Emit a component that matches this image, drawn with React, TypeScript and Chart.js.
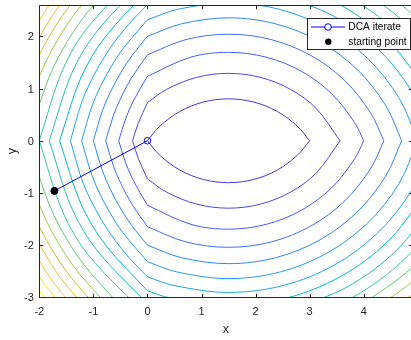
import React, { useEffect, useRef } from "react";
import { Chart, registerables } from "chart.js";

Chart.register(...registerables);

// ---- axes ----
const xLimits = [-2, 4.9];
const yLimits = [-3, 2.6];
const xTicks = [-2, -1, 0, 1, 2, 3, 4];
const yTicks = [-3, -2, -1, 0, 1, 2];

// ---- contour levels and colours (parula) ----
const levels = [0, 2, 4, 6, 8, 10, 12, 14, 16, 18, 20, 22, 24, 26, 28, 30, 32];
const levelColors = [
  "#4537D5", "#4747EB", "#465DFB", "#3E6FFF", "#2E87F7", "#259BE7",
  "#1CA9DF", "#01B8CA", "#24C1AE", "#37C897", "#64CD6F", "#9EC943",
  "#C5C22A", "#EFBA36", "#FEC338", "#F7DC2A", "#F7F51B",
];

// ---- contour lines: each level is a list of pieces of [x, y] ----
const c00 = [
  [[3, 0], [2.775, 0.275], [2.401, 0.561], [1.967, 0.741], [1.5, 0.803], [1.033, 0.741], [0.599, 0.561], [0.225, 0.275], [0, 0]],
  [[3, 0], [2.775, -0.275], [2.401, -0.561], [1.967, -0.741], [1.5, -0.803], [1.033, -0.741], [0.599, -0.561], [0.225, -0.275], [0, 0]],
];
const c02 = [
  [[3.562, 0], [3.12, 0.62], [2.646, 0.984], [2.093, 1.213], [1.5, 1.291], [0.907, 1.213], [0.354, 0.984], [0, 0.732]],
  [[3.562, 0], [3.12, -0.62], [2.646, -0.984], [2.093, -1.213], [1.5, -1.291], [0.907, -1.213], [0.354, -0.984], [0, -0.732]],
  [[0, 0.732], [-0.17, 0.336], [-0.275, 0]],
  [[0, -0.732], [-0.17, -0.336], [-0.275, 0]],
];
const c04 = [
  [[4, 0], [3.832, 0.346], [3.404, 0.904], [2.846, 1.332], [2.197, 1.601], [1.5, 1.693], [0.803, 1.601], [0, 1.236]],
  [[4, 0], [3.832, -0.346], [3.404, -0.904], [2.846, -1.332], [2.197, -1.601], [1.5, -1.693], [0.803, -1.601], [0, -1.236]],
  [[0, 1.236], [-0.264, 0.755], [-0.403, 0.421], [-0.531, 0]],
  [[0, -1.236], [-0.264, -0.755], [-0.403, -0.421], [-0.531, 0]],
];
const c06 = [
  [[4.372, 0], [4.134, 0.521], [3.651, 1.151], [3.021, 1.634], [2.287, 1.938], [1.5, 2.041], [0.713, 1.938], [0, 1.646]],
  [[4.372, 0], [4.134, -0.521], [3.651, -1.151], [3.021, -1.634], [2.287, -1.938], [1.5, -2.041], [0.713, -1.938], [0, -1.646]],
  [[0, 1.646], [-0.3, 1.194], [-0.476, 0.854], [-0.623, 0.501], [-0.772, 0]],
  [[0, -1.646], [-0.3, -1.194], [-0.476, -0.854], [-0.623, -0.501], [-0.772, 0]],
];
const c08 = [
  [[4.702, 0], [4.405, 0.677], [3.872, 1.372], [3.177, 1.905], [2.368, 2.24], [1.5, 2.354], [0.632, 2.24], [0, 2]],
  [[4.702, 0], [4.405, -0.677], [3.872, -1.372], [3.177, -1.905], [2.368, -2.24], [1.5, -2.354], [0.632, -2.24], [0, -2]],
  [[0, 2], [-0.276, 1.644], [-0.492, 1.305], [-0.678, 0.948], [-0.832, 0.577], [-1, 0]],
  [[0, -2], [-0.276, -1.644], [-0.492, -1.305], [-0.678, -0.948], [-0.832, -0.577], [-1, 0]],
];
const c10 = [
  [[5, 0], [4.652, 0.82], [4.074, 1.574], [3.32, 2.152], [2.442, 2.516], [1.5, 2.64], [0.558, 2.516], [0, 2.317]],
  [[5, 0], [4.652, -0.82], [4.074, -1.574], [3.32, -2.152], [2.442, -2.516], [1.5, -2.64], [0.558, -2.516], [0, -2.317]],
  [[0, 2.317], [-0.45, 1.766], [-0.676, 1.411], [-0.87, 1.038], [-1.031, 0.649], [-1.217, 0]],
  [[0, -2.317], [-0.45, -1.766], [-0.676, -1.411], [-0.87, -1.038], [-1.031, -0.649], [-1.217, 0]],
];
const c12 = [
  [[5.275, 0], [4.882, 0.953], [4.261, 1.761], [3.453, 2.382], [2.511, 2.772]],
  [[5.275, 0], [4.882, -0.953], [4.261, -1.761], [3.453, -2.382], [2.511, -2.772], [1.5, -2.905], [0.489, -2.772], [0, -2.606]],
  [[0, 2.606], [-0.349, 2.23], [-0.616, 1.882], [-0.852, 1.513], [-1.054, 1.124], [-1.222, 0.719], [-1.424, 0]],
  [[0, -2.606], [-0.349, -2.23], [-0.616, -1.882], [-0.852, -1.513], [-1.054, -1.124], [-1.222, -0.719], [-1.424, 0]],
];
const c14 = [
  [[5.097, 1.077], [4.437, 1.937], [3.577, 2.597], [2.575, 3.012]],
  [[5.097, -1.077], [4.437, -1.937], [3.577, -2.597], [2.575, -3.012], [1.5, -3.153], [0.425, -3.012], [0, -2.873]],
  [[0, 2.873], [-0.776, 1.994], [-1.231, 1.206], [-1.624, 0]],
  [[0, -2.873], [-0.776, -1.994], [-1.231, -1.206], [-1.624, 0]],
];
const c16 = [
  [[5.3, 1.194], [4.602, 2.102], [3.694, 2.8]],
  [[5.3, -1.194], [4.602, -2.102], [3.694, -2.8], [2.636, -3.238]],
  [[0, 3.123], [-0.93, 2.102], [-1.402, 1.286], [-1.815, 0]],
  [[0, -3.123], [-0.93, -2.102], [-1.402, -1.286], [-1.815, 0]],
];
const c18 = [
  [[5.492, 1.305], [4.76, 2.26], [3.805, 2.992]],
  [[5.492, -1.305], [4.76, -2.26], [3.805, -2.992], [2.693, -3.453]],
  [[0, 3.359], [-1.079, 2.206], [-1.566, 1.363], [-2, 0]],
  [[0, -3.359], [-1.079, -2.206], [-1.566, -1.363], [-2, 0]],
];
const c20 = [
  [[5.676, 1.411], [4.91, 2.41], [3.911, 3.176]],
  [[5.676, -1.411], [4.91, -2.41], [3.911, -3.176]],
  [[-0.577, 3.077], [-1.224, 2.307], [-1.726, 1.437], [-2.07, 0.492]],
  [[-0.577, -3.077], [-1.224, -2.307], [-1.726, -1.437], [-2.07, -0.492]],
];
const c22 = [
  [[5.852, -1.513], [5.053, -2.553], [4.013, -3.352]],
  [[-0.698, 3.198], [-1.364, 2.406], [-1.881, 1.509], [-2.235, 0.537]],
  [[-0.698, -3.198], [-1.364, -2.406], [-1.881, -1.509], [-2.235, -0.537]],
];
const c24 = [
  [[6.021, -1.61], [5.191, -2.691], [4.11, -3.521]],
  [[-0.816, 3.316], [-1.5, 2.501], [-2.031, 1.579], [-2.395, 0.58]],
  [[-0.816, -3.316], [-1.5, -2.501], [-2.031, -1.579], [-2.395, -0.58]],
];
const c26 = [
  [[-0.93, 3.43], [-1.632, 2.594], [-2.178, 1.648]],
  [[-0.93, -3.43], [-1.632, -2.594], [-2.178, -1.648]],
];
const c28 = [
  [[-1.042, 3.542], [-1.761, 2.684], [-2.321, 1.714]],
  [[-1.042, -3.542], [-1.761, -2.684], [-2.321, -1.714]],
];
const c30 = [
  [[-1.15, -3.65], [-1.887, -2.772], [-2.46, -1.779]],
];
const c32 = [
  [[-1.257, -3.757], [-2.01, -2.858], [-2.597, -1.843]],
];
const contourLines = [c00, c02, c04, c06, c08, c10, c12, c14, c16, c18, c20, c22, c24, c26, c28, c30, c32];

// ---- DCA iterates and starting point ----
const dcaX = [-1.72, 0];
const dcaY = [-0.96, 0];
const startX = [-1.72];
const startY = [-0.96];

const legendLabels = ["DCA iterate", "starting point"];
const axisTitles = { x: "x", y: "y" };

const AXIS_COLOR = "#262626";
const FONT = '"Liberation Sans", Arial, Helvetica, sans-serif';

const matlabAxes = {
  id: "matlabAxes",
  afterDatasetsDraw(chart: any) {
    const { ctx, chartArea: a, scales } = chart;
    const xs = scales.x;
    const ys = scales.y;
    const snap = (v: number) => Math.round(v) + 0.5;
    ctx.save();
    // box
    ctx.strokeStyle = AXIS_COLOR;
    ctx.lineWidth = 1;
    const L = snap(a.left), R = snap(a.right), T = snap(a.top), B = snap(a.bottom);
    ctx.beginPath();
    ctx.moveTo(L, T); ctx.lineTo(R, T); ctx.lineTo(R, B); ctx.lineTo(L, B); ctx.closePath();
    ctx.stroke();
    // ticks (inward)
    const tl = 3.7;
    ctx.beginPath();
    xTicks.forEach((v) => {
      const p = snap(xs.getPixelForValue(v));
      ctx.moveTo(p, B); ctx.lineTo(p, B - tl);
      ctx.moveTo(p, T); ctx.lineTo(p, T + tl);
    });
    yTicks.forEach((v) => {
      const p = snap(ys.getPixelForValue(v));
      ctx.moveTo(L, p); ctx.lineTo(L + tl, p);
      ctx.moveTo(R, p); ctx.lineTo(R - tl, p);
    });
    ctx.stroke();
    // tick labels
    ctx.fillStyle = AXIS_COLOR;
    ctx.font = `11px ${FONT}`;
    ctx.textAlign = "center";
    ctx.textBaseline = "alphabetic";
    xTicks.forEach((v) => {
      ctx.fillText(String(v), xs.getPixelForValue(v), a.bottom + 17.6);
    });
    ctx.textAlign = "right";
    yTicks.forEach((v) => {
      ctx.fillText(String(v), a.left - 5.5, ys.getPixelForValue(v) + 4);
    });
    // axis titles
    ctx.font = `12.5px ${FONT}`;
    ctx.textAlign = "center";
    ctx.fillText(axisTitles.x, (a.left + a.right) / 2, 332.5);
    ctx.save();
    ctx.translate(16, (a.top + a.bottom) / 2);
    ctx.rotate(-Math.PI / 2);
    ctx.textAlign = "center";
    ctx.textBaseline = "alphabetic";
    ctx.fillText(axisTitles.y, 0, 0);
    ctx.restore();

    // legend
    const lx = 307.5, ly = 18.5, lw = 103, lh = 31;
    ctx.fillStyle = "#ffffff";
    ctx.fillRect(lx, ly, lw, lh);
    ctx.strokeStyle = AXIS_COLOR;
    ctx.lineWidth = 1;
    ctx.strokeRect(lx, ly, lw, lh);
    const row1 = 27, row2 = 41.7;
    ctx.strokeStyle = "#0000ff";
    ctx.beginPath();
    ctx.moveTo(311, row1); ctx.lineTo(345, row1);
    ctx.stroke();
    ctx.fillStyle = "#ffffff";
    ctx.beginPath();
    ctx.arc(328, row1, 3.3, 0, Math.PI * 2);
    ctx.fill();
    ctx.stroke();
    ctx.fillStyle = "#000000";
    ctx.beginPath();
    ctx.arc(328.3, row2, 3.2, 0, Math.PI * 2);
    ctx.fill();
    ctx.font = `10.2px ${FONT}`;
    ctx.textAlign = "left";
    ctx.textBaseline = "middle";
    ctx.fillText(legendLabels[0], 348.3, row1 + 0.5);
    ctx.fillText(legendLabels[1], 348.3, row2 + 0.5);
    ctx.restore();
  },
};

export default function App() {
  const ref = useRef<HTMLCanvasElement | null>(null);
  useEffect(() => {
    if (!ref.current) return;
    const datasets: any[] = [];
    datasets.push({
      label: legendLabels[1],
      data: startX.map((x, i) => ({ x, y: startY[i] })),
      showLine: false,
      pointRadius: 3.5,
      pointBackgroundColor: "#000000",
      pointBorderColor: "#000000",
      order: 0,
    });
    datasets.push({
      label: legendLabels[0],
      data: dcaX.map((x, i) => ({ x, y: dcaY[i] })),
      showLine: true,
      borderColor: "#0000ff",
      borderWidth: 1,
      pointRadius: 3.3,
      pointBorderWidth: 1,
      pointBorderColor: "#0000ff",
      pointBackgroundColor: "rgba(0,0,0,0)",
      tension: 0,
      order: 1,
    });
    contourLines.forEach((pieces, li) => {
      pieces.forEach((piece) => {
        datasets.push({
          label: `level ${levels[li]}`,
          data: piece.map((p) => ({ x: p[0], y: p[1] })),
          showLine: true,
          borderColor: levelColors[li],
          borderWidth: 1,
          pointRadius: 0,
          pointHoverRadius: 0,
          tension: 0.34,
          order: 2,
        });
      });
    });
    const chart = new Chart(ref.current, {
      type: "scatter",
      data: { datasets },
      options: {
        animation: false,
        responsive: false,
        maintainAspectRatio: false,
        devicePixelRatio: 1,
        events: [],
        layout: { padding: { left: 39.3, right: 7.6, top: 2.3, bottom: 42.6 } },
        elements: { line: { capBezierPoints: false } },
        plugins: { legend: { display: false }, tooltip: { enabled: false } },
        scales: {
          x: { type: "linear", display: false, min: xLimits[0], max: xLimits[1] },
          y: { type: "linear", display: false, min: yLimits[0], max: yLimits[1] },
        },
      },
      plugins: [matlabAxes],
    });
    return () => chart.destroy();
  }, []);
  return (
    <div style={{ position: "absolute", left: 0, top: 0, width: 411, height: 340, overflow: "hidden", background: "#ffffff" }}>
      <canvas ref={ref} width={420} height={340} style={{ display: "block", width: 420, height: 340 }} />
    </div>
  );
}
